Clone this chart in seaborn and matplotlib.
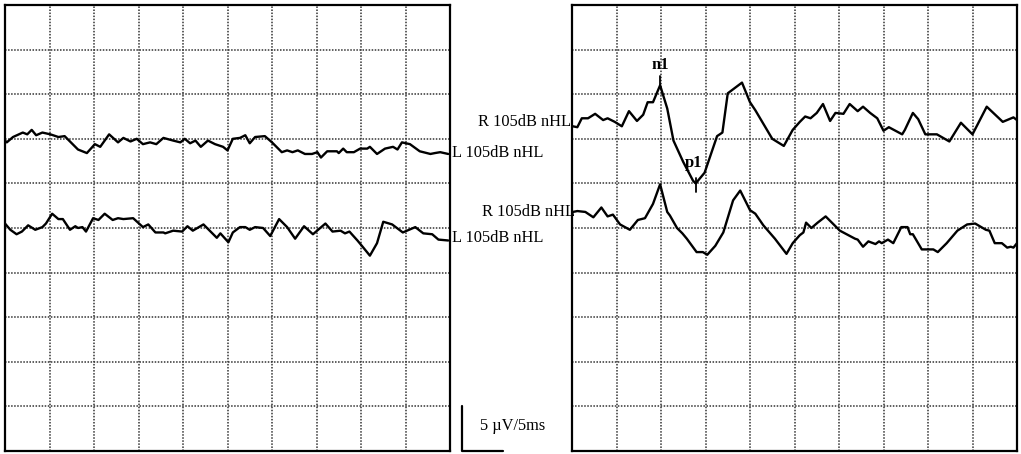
import matplotlib
matplotlib.use("Agg")
import matplotlib.pyplot as plt
import seaborn as sns

# time (ms) and amplitude (uV, offset) of each trace
left_top_t = [0.0, 0.2, 0.9, 2.0, 2.5, 3.0, 3.5, 4.2, 5.1, 6.0, 6.7, 7.3, 8.2, 9.2, 10.1, 10.7,
              11.7, 12.7, 13.3, 14.1, 14.8, 15.5, 16.3, 17.0, 17.8, 18.9, 19.7, 20.2, 20.8, 21.4,
              22.0, 22.8, 23.6, 24.5, 25.0, 25.6, 26.4, 27.0, 27.5, 28.1, 29.2, 30.0, 31.1, 31.7,
              32.3, 32.9, 33.7, 34.5, 35.1, 35.5, 36.2, 37.3, 37.5, 38.0, 38.4, 39.2, 39.9, 40.7,
              41.0, 41.8, 42.7, 43.6, 44.1, 44.6, 45.5, 46.6, 47.8, 48.3, 48.9, 49.8]
left_top_v = [34.8, 34.6, 35.2, 35.7, 35.5, 36.0, 35.4, 35.7, 35.5, 35.2, 35.3, 34.7, 33.8, 33.4, 34.4, 34.1,
              35.5, 34.6, 35.1, 34.7, 35.0, 34.4, 34.6, 34.4, 35.1, 34.8, 34.6, 35.0, 34.5, 34.8,
              34.1, 34.8, 34.4, 34.1, 33.7, 35.0, 35.1, 35.4, 34.5, 35.2, 35.3, 34.6, 33.5, 33.7,
              33.5, 33.7, 33.3, 33.3, 33.5, 32.9, 33.6, 33.6, 33.4, 33.9, 33.5, 33.5, 33.9, 33.9,
              34.1, 33.3, 33.9, 34.1, 33.8, 34.6, 34.4, 33.6, 33.3, 33.4, 33.5, 33.3]

left_bot_t = [0.0, 0.6, 1.3, 1.9, 2.6, 3.4, 4.2, 4.6, 5.3, 6.0, 6.5, 7.3, 7.9, 8.2, 8.7, 9.1, 9.9,
              10.5, 11.2, 12.1, 12.7, 13.3, 14.4, 15.5, 16.1, 16.9, 17.8, 18.0, 18.9, 19.9, 20.5,
              21.1, 22.3, 23.0, 23.8, 24.2, 25.1, 25.6, 26.4, 27.0, 27.5, 28.1, 29.0, 29.8, 30.8,
              31.7, 32.6, 33.6, 34.6, 36.0, 36.8, 37.7, 38.2, 38.7, 39.6, 40.1, 41.0, 41.8, 42.5,
              43.5, 44.7, 46.1, 47.0, 48.0, 48.7, 49.8]
left_bot_v = [25.5, 24.8, 24.3, 24.6, 25.3, 24.8, 25.1, 25.5, 26.6, 26.0, 26.0, 24.8, 25.2, 25.0, 25.1, 24.6, 26.1,
              25.9, 26.6, 25.9, 26.1, 26.0, 26.1, 25.1, 25.4, 24.5, 24.5, 24.4, 24.7, 24.6, 25.2,
              24.7, 25.4, 24.7, 23.9, 24.4, 23.4, 24.5, 25.1, 25.1, 24.8, 25.1, 25.0, 24.1, 26.0,
              25.1, 23.8, 25.2, 24.3, 25.5, 24.6, 24.7, 24.4, 24.6, 23.6, 23.0, 21.9, 23.3, 25.7,
              25.4, 24.5, 25.1, 24.4, 24.3, 23.7, 23.6]

right_top_t = [0.1, 0.6, 1.1, 1.8, 2.6, 3.5, 4.0, 4.8, 5.6, 6.4, 7.3, 8.0, 8.5, 9.1, 9.9, 10.7,
               11.4, 12.5, 13.6, 13.9, 14.9, 16.3, 16.9, 17.5, 19.1, 20.0, 20.6, 22.5, 23.8, 24.8,
               25.6, 26.2, 26.8, 27.5, 28.2, 29.0, 29.6, 30.5, 31.2, 32.1, 32.7, 33.5, 34.3, 35.0,
               35.6, 37.1, 37.4, 38.3, 38.9, 39.7, 41.0, 42.4, 43.7, 45.0, 46.6, 48.4, 49.6, 50.0]
right_top_v = [36.4, 36.3, 37.3, 37.3, 37.8, 37.1, 37.3, 36.9, 36.4, 38.1, 37.0, 37.7, 39.1, 39.1, 41.0, 38.4,
               34.8, 32.4, 30.3, 30.0, 31.2, 35.3, 35.7, 40.1, 41.3, 39.1, 38.2, 35.0, 34.2, 36.0,
               36.9, 37.5, 37.3, 37.9, 38.9, 37.0, 37.9, 37.8, 38.9, 38.1, 38.6, 37.9, 37.3, 35.9,
               36.3, 35.5, 36.0, 37.9, 37.2, 35.5, 35.5, 34.7, 36.8, 35.5, 38.6, 36.9, 37.4, 37.1]

right_bot_t = [0.1, 0.6, 1.5, 2.4, 3.3, 4.0, 4.6, 5.4, 6.5, 7.4, 8.2, 9.1, 9.9, 10.7, 11.0, 11.8,
               12.4, 12.9, 14.0, 14.7, 15.2, 16.1, 17.0, 18.1, 18.9, 20.0, 20.6, 21.5, 22.8, 24.1,
               24.8, 25.6, 26.0, 26.3, 26.9, 27.6, 28.5, 30.1, 31.8, 32.1, 32.7, 33.3, 34.1, 34.5,
               34.8, 35.5, 36.1, 37.0, 37.7, 38.0, 38.3, 39.3, 40.6, 41.1, 42.1, 43.3, 44.4, 45.3,
               46.5, 46.9, 47.5, 48.3, 48.9, 49.3, 49.6, 50.0]
right_bot_v = [26.8, 26.9, 26.8, 26.2, 27.3, 26.3, 26.5, 25.4, 24.8, 25.9, 26.1, 27.7, 29.9, 26.8, 26.4, 25.0,
               24.4, 23.8, 22.3, 22.3, 22.0, 23.0, 24.5, 28.1, 29.2, 27.0, 26.6, 25.3, 23.8, 22.1,
               23.3, 24.2, 24.5, 25.6, 25.0, 25.6, 26.3, 24.7, 23.8, 23.7, 22.9, 23.5, 23.2, 23.5,
               23.3, 23.7, 23.3, 25.1, 25.1, 24.3, 24.3, 22.6, 22.6, 22.3, 23.3, 24.7, 25.4, 25.5,
               24.8, 24.7, 23.3, 23.3, 22.8, 22.9, 22.8, 23.3]

trace_label = "105dB nHL"
peaks = {"n1": (9.9, 41.0), "p1": (13.9, 30.0)}

sns.set_style("white")
plt.rcParams["font.family"] = ["Liberation Serif", "DejaVu Serif"]
plt.rcParams["text.color"] = "black"

fig = plt.figure(figsize=(10.21, 4.54), dpi=100)
ax1 = fig.add_axes([5 / 1021, 3 / 454, 445 / 1021, 446 / 454])
ax2 = fig.add_axes([572 / 1021, 3 / 454, 445 / 1021, 446 / 454])

for ax in (ax1, ax2):
    ax.set_xlim(0, 50)
    ax.set_ylim(0, 50)
    ax.set_xticks(range(0, 51, 5))
    ax.set_yticks(range(0, 51, 5))
    ax.set_xticklabels([])
    ax.set_yticklabels([])
    ax.tick_params(length=0)
    ax.grid(True, linestyle=(0, (1, 1)), color="#333333", linewidth=1.1)
    for s in ax.spines.values():
        s.set_visible(True)
        s.set_color("black")
        s.set_linewidth(1.6)

lw = 1.7
sns.lineplot(x=left_top_t, y=left_top_v, ax=ax1, color="black", lw=lw, sort=False, estimator=None)
sns.lineplot(x=left_bot_t, y=left_bot_v, ax=ax1, color="black", lw=lw, sort=False, estimator=None)
sns.lineplot(x=right_top_t, y=right_top_v, ax=ax2, color="black", lw=lw, sort=False, estimator=None)
sns.lineplot(x=right_bot_t, y=right_bot_v, ax=ax2, color="black", lw=lw, sort=False, estimator=None)

# channel labels
fs = 11.8
ax1.text(50.2, 33.4, "L " + trace_label, ha="left", va="center", fontsize=fs, clip_on=False)
ax1.text(50.2, 23.9, "L " + trace_label, ha="left", va="center", fontsize=fs, clip_on=False)
ax2.text(-0.1, 36.9, "R " + trace_label, ha="right", va="center", fontsize=fs, clip_on=False)
ax2.text(0.35, 26.8, "R " + trace_label, ha="right", va="center", fontsize=fs, clip_on=False, zorder=0)

# peak markers
nx, ny = peaks["n1"]
ax2.plot([nx, nx], [ny, ny + 1.0], color="black", lw=1.3)
ax2.text(nx, ny + 1.8, "n1", ha="center", va="baseline", fontsize=12, fontweight="bold")
px, py = peaks["p1"]
ax2.plot([px, px], [py - 1.0, py + 0.6], color="black", lw=1.3)
ax2.text(px - 0.2, py + 1.8, "p1", ha="center", va="baseline", fontsize=12, fontweight="bold")

# scale bar: 5 uV / 5 ms
ax1.plot([51.3, 51.3, 56.0], [5.0, 0.0, 0.0], color="black", lw=1.6, clip_on=False)
ax1.text(53.4, 2.8, "5 \u00b5V/5ms", ha="left", va="center", fontsize=fs, clip_on=False)

fig.savefig("out.png", dpi=100)
